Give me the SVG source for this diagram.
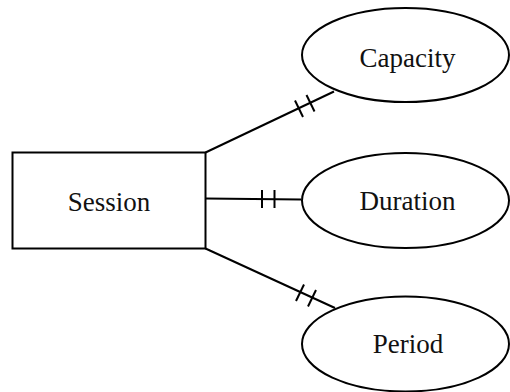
<svg xmlns="http://www.w3.org/2000/svg" width="510" height="392" viewBox="0 0 510 392">
  <style>
    .shape { fill: #ffffff; stroke: #000000; stroke-width: 2; }
    .link { fill: none; stroke: #000000; stroke-width: 2; }
    .label { font-family: "Liberation Serif", "Times New Roman", serif; font-size: 27px; fill: #111111; text-anchor: middle; }
  </style>
  <rect width="510" height="392" fill="#ffffff"/>

  <!-- relationship lines with "exactly one" bars near each attribute -->
  <g id="connectors">
    <line class="link" x1="205.5" y1="152.5" x2="334" y2="91.5"/>
    <line class="link" x1="295" y1="100.5" x2="303" y2="117"/>
    <line class="link" x1="306.5" y1="95" x2="314.5" y2="111.5"/>

    <line class="link" x1="205.5" y1="198.5" x2="301" y2="199.5"/>
    <line class="link" x1="262" y1="190" x2="262" y2="208"/>
    <line class="link" x1="274.5" y1="190" x2="274.5" y2="208"/>

    <line class="link" x1="205.5" y1="248.5" x2="335" y2="308"/>
    <line class="link" x1="304" y1="284.5" x2="296" y2="301"/>
    <line class="link" x1="316" y1="290" x2="308" y2="306.5"/>
  </g>

  <g id="session">
    <rect class="shape" x="12.5" y="152.5" width="193" height="96"/>
    <text class="label" x="109" y="211">Session</text>
  </g>

  <g id="capacity">
    <ellipse class="shape" cx="405.5" cy="55" rx="103.5" ry="47"/>
    <text class="label" x="407.5" y="67">Capacity</text>
  </g>

  <g id="duration">
    <ellipse class="shape" cx="405.5" cy="200.5" rx="103.5" ry="47.5"/>
    <text class="label" x="407.5" y="210">Duration</text>
  </g>

  <g id="period">
    <ellipse class="shape" cx="405.5" cy="344" rx="103.5" ry="47.5"/>
    <text class="label" x="408" y="353">Period</text>
  </g>
</svg>
